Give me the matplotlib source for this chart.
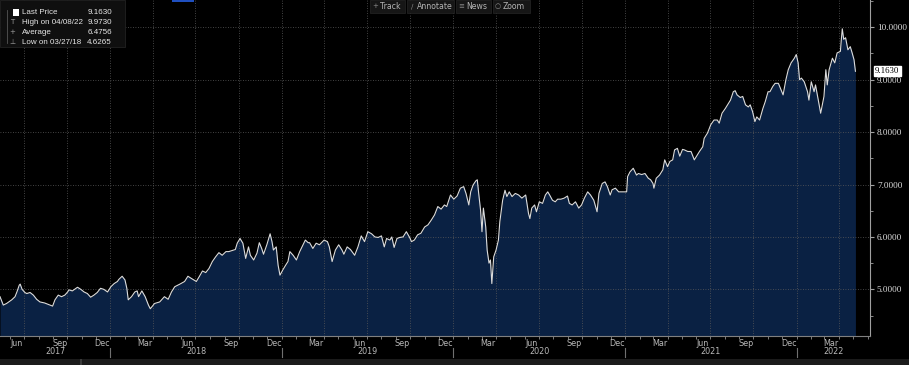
import pandas as pd
import numpy as np
import matplotlib
matplotlib.use('Agg')
import matplotlib.pyplot as plt
import matplotlib.dates as mdates
from matplotlib.patches import Rectangle
from matplotlib.ticker import MultipleLocator, FormatStrFormatter

# --- price history (date, last price) ---
obs_2017 = [
    ("2017-05-11", 4.86), ("2017-05-18", 4.70), ("2017-05-25", 4.73), ("2017-06-05", 4.80),
    ("2017-06-12", 4.86), ("2017-06-16", 4.95), ("2017-06-21", 5.08), ("2017-06-23", 5.10),
    ("2017-06-27", 5.00), ("2017-07-03", 4.94), ("2017-07-07", 4.92), ("2017-07-14", 4.94),
    ("2017-07-21", 4.89), ("2017-07-28", 4.81), ("2017-08-04", 4.76), ("2017-08-14", 4.74),
    ("2017-08-25", 4.70), ("2017-08-31", 4.68), ("2017-09-05", 4.80), ("2017-09-12", 4.89),
    ("2017-09-19", 4.86), ("2017-09-26", 4.89), ("2017-10-02", 4.95), ("2017-10-05", 4.99),
    ("2017-10-12", 4.97), ("2017-10-23", 5.04), ("2017-10-30", 5.00), ("2017-11-06", 4.95),
    ("2017-11-13", 4.92), ("2017-11-20", 4.85), ("2017-11-27", 4.89), ("2017-12-04", 4.94),
    ("2017-12-11", 5.02), ("2017-12-18", 5.00), ("2017-12-26", 4.95),
]
obs_2018 = [
    ("2018-01-02", 5.05), ("2018-01-09", 5.11), ("2018-01-16", 5.15), ("2018-01-19", 5.19),
    ("2018-01-26", 5.25), ("2018-02-01", 5.18), ("2018-02-05", 5.02), ("2018-02-08", 4.80),
    ("2018-02-15", 4.86), ("2018-02-22", 4.95), ("2018-02-27", 4.97), ("2018-03-02", 4.86),
    ("2018-03-09", 4.97), ("2018-03-16", 4.86), ("2018-03-23", 4.70), ("2018-03-27", 4.63),
    ("2018-04-05", 4.73), ("2018-04-16", 4.76), ("2018-04-26", 4.86), ("2018-05-04", 4.81),
    ("2018-05-11", 4.95), ("2018-05-18", 5.05), ("2018-05-29", 5.10), ("2018-06-08", 5.15),
    ("2018-06-15", 5.25), ("2018-06-22", 5.21), ("2018-07-03", 5.15), ("2018-07-09", 5.24),
    ("2018-07-16", 5.35), ("2018-07-23", 5.32), ("2018-07-30", 5.40), ("2018-08-06", 5.53),
    ("2018-08-13", 5.62), ("2018-08-20", 5.70), ("2018-08-27", 5.65), ("2018-09-04", 5.72),
    ("2018-09-10", 5.72), ("2018-09-17", 5.74), ("2018-09-24", 5.76), ("2018-09-28", 5.88),
    ("2018-10-04", 5.97), ("2018-10-10", 5.88), ("2018-10-16", 5.59), ("2018-10-22", 5.81),
    ("2018-10-26", 5.65), ("2018-11-02", 5.56), ("2018-11-09", 5.69), ("2018-11-14", 5.89),
    ("2018-11-19", 5.78), ("2018-11-23", 5.67), ("2018-11-30", 5.85), ("2018-12-07", 6.06),
    ("2018-12-11", 5.91), ("2018-12-14", 5.75), ("2018-12-20", 5.81), ("2018-12-24", 5.46),
    ("2018-12-28", 5.27),
]
obs_2019 = [
    ("2019-01-03", 5.37), ("2019-01-09", 5.46), ("2019-01-14", 5.53), ("2019-01-18", 5.72),
    ("2019-01-25", 5.65), ("2019-02-01", 5.56), ("2019-02-08", 5.72), ("2019-02-15", 5.85),
    ("2019-02-20", 5.94), ("2019-02-26", 5.89), ("2019-03-01", 5.89), ("2019-03-08", 5.78),
    ("2019-03-15", 5.88), ("2019-03-22", 5.85), ("2019-04-01", 5.94), ("2019-04-08", 5.91),
    ("2019-04-12", 5.81), ("2019-04-18", 5.53), ("2019-04-25", 5.75), ("2019-05-02", 5.85),
    ("2019-05-09", 5.75), ("2019-05-13", 5.67), ("2019-05-20", 5.81), ("2019-05-27", 5.76),
    ("2019-06-05", 5.65), ("2019-06-12", 5.81), ("2019-06-19", 6.02), ("2019-06-26", 5.91),
    ("2019-07-03", 6.10), ("2019-07-11", 6.06), ("2019-07-18", 6.00), ("2019-07-25", 5.99),
    ("2019-08-01", 6.02), ("2019-08-07", 5.81), ("2019-08-12", 5.97), ("2019-08-19", 5.94),
    ("2019-08-23", 6.00), ("2019-08-28", 5.80), ("2019-09-03", 5.97), ("2019-09-09", 5.99),
    ("2019-09-16", 6.00), ("2019-09-23", 6.10), ("2019-09-30", 5.99), ("2019-10-04", 5.91),
    ("2019-10-10", 5.94), ("2019-10-17", 6.04), ("2019-10-24", 6.07), ("2019-11-01", 6.19),
    ("2019-11-08", 6.23), ("2019-11-15", 6.32), ("2019-11-22", 6.42), ("2019-11-29", 6.58),
    ("2019-12-06", 6.53), ("2019-12-13", 6.61), ("2019-12-18", 6.58), ("2019-12-26", 6.80),
]
obs_2020 = [
    ("2020-01-02", 6.72), ("2020-01-09", 6.78), ("2020-01-16", 6.93), ("2020-01-23", 6.96),
    ("2020-01-28", 6.83), ("2020-02-03", 6.61), ("2020-02-07", 6.86), ("2020-02-12", 6.99),
    ("2020-02-18", 7.07), ("2020-02-21", 7.09), ("2020-02-24", 6.83), ("2020-02-28", 6.51),
    ("2020-03-02", 6.10), ("2020-03-05", 6.55), ("2020-03-10", 6.19), ("2020-03-13", 5.75),
    ("2020-03-17", 5.50), ("2020-03-20", 5.56), ("2020-03-23", 5.11), ("2020-03-27", 5.62),
    ("2020-04-01", 5.75), ("2020-04-06", 5.94), ("2020-04-09", 6.29), ("2020-04-15", 6.70),
    ("2020-04-20", 6.89), ("2020-04-24", 6.77), ("2020-04-29", 6.86), ("2020-05-05", 6.77),
    ("2020-05-12", 6.83), ("2020-05-19", 6.80), ("2020-05-26", 6.74), ("2020-06-03", 6.80),
    ("2020-06-09", 6.45), ("2020-06-12", 6.35), ("2020-06-16", 6.55), ("2020-06-22", 6.61),
    ("2020-06-26", 6.48), ("2020-07-02", 6.67), ("2020-07-09", 6.64), ("2020-07-15", 6.80),
    ("2020-07-20", 6.86), ("2020-07-24", 6.80), ("2020-07-30", 6.70), ("2020-08-05", 6.67),
    ("2020-08-10", 6.72), ("2020-08-17", 6.72), ("2020-08-24", 6.74), ("2020-08-31", 6.78),
    ("2020-09-04", 6.64), ("2020-09-10", 6.61), ("2020-09-17", 6.67), ("2020-09-24", 6.55),
    ("2020-09-30", 6.61), ("2020-10-06", 6.74), ("2020-10-13", 6.86), ("2020-10-19", 6.80),
    ("2020-10-26", 6.70), ("2020-11-02", 6.48), ("2020-11-06", 6.83), ("2020-11-13", 7.02),
    ("2020-11-19", 7.05), ("2020-11-24", 6.96), ("2020-11-30", 6.80), ("2020-12-04", 6.90),
    ("2020-12-11", 6.93), ("2020-12-18", 6.86), ("2020-12-24", 6.86),
]
obs_2021 = [
    ("2021-01-04", 6.86), ("2021-01-06", 7.15), ("2021-01-11", 7.24), ("2021-01-18", 7.31),
    ("2021-01-25", 7.18), ("2021-01-29", 7.21), ("2021-02-05", 7.19), ("2021-02-12", 7.21),
    ("2021-02-19", 7.12), ("2021-02-24", 7.09), ("2021-03-01", 7.02), ("2021-03-03", 6.93),
    ("2021-03-08", 7.12), ("2021-03-15", 7.18), ("2021-03-22", 7.28), ("2021-03-26", 7.47),
    ("2021-04-01", 7.34), ("2021-04-06", 7.44), ("2021-04-12", 7.47), ("2021-04-16", 7.66),
    ("2021-04-22", 7.69), ("2021-04-27", 7.54), ("2021-05-03", 7.67), ("2021-05-07", 7.66),
    ("2021-05-14", 7.63), ("2021-05-21", 7.63), ("2021-05-28", 7.47), ("2021-06-08", 7.63),
    ("2021-06-15", 7.72), ("2021-06-18", 7.88), ("2021-06-25", 7.98), ("2021-07-02", 8.14),
    ("2021-07-09", 8.23), ("2021-07-16", 8.23), ("2021-07-20", 8.17), ("2021-07-26", 8.36),
    ("2021-08-02", 8.45), ("2021-08-09", 8.55), ("2021-08-13", 8.61), ("2021-08-19", 8.77),
    ("2021-08-23", 8.79), ("2021-08-27", 8.71), ("2021-09-03", 8.66), ("2021-09-08", 8.68),
    ("2021-09-14", 8.52), ("2021-09-20", 8.48), ("2021-09-24", 8.52), ("2021-09-29", 8.39),
    ("2021-10-04", 8.20), ("2021-10-08", 8.29), ("2021-10-14", 8.23), ("2021-10-21", 8.45),
    ("2021-10-26", 8.58), ("2021-11-01", 8.77), ("2021-11-05", 8.77), ("2021-11-11", 8.87),
    ("2021-11-16", 8.93), ("2021-11-23", 8.93), ("2021-11-29", 8.80), ("2021-12-03", 8.71),
    ("2021-12-09", 9.00), ("2021-12-14", 9.19), ("2021-12-20", 9.32), ("2021-12-27", 9.41),
    ("2021-12-31", 9.48),
]
obs_2022 = [
    ("2022-01-04", 9.32), ("2022-01-07", 9.00), ("2022-01-11", 9.03), ("2022-01-17", 8.96),
    ("2022-01-24", 8.77), ("2022-01-27", 8.61), ("2022-02-01", 8.96), ("2022-02-07", 8.77),
    ("2022-02-10", 8.90), ("2022-02-15", 8.65), ("2022-02-21", 8.36), ("2022-02-28", 8.68),
    ("2022-03-04", 9.19), ("2022-03-07", 8.90), ("2022-03-11", 9.19), ("2022-03-18", 9.41),
    ("2022-03-23", 9.32), ("2022-03-28", 9.51), ("2022-04-04", 9.54), ("2022-04-06", 9.77),
    ("2022-04-08", 9.97), ("2022-04-11", 9.77), ("2022-04-15", 9.80), ("2022-04-20", 9.57),
    ("2022-04-25", 9.63), ("2022-04-29", 9.51), ("2022-05-03", 9.38), ("2022-05-06", 9.16),
]

# legend values
last_price = 9.1630
high_price, high_date = 9.9730, "04/08/22"
avg_price = 6.4756
low_price, low_date = 4.6265, "03/27/18"

y_ticks = [5, 6, 7, 8, 9, 10]
toolbar_items = ["Track", "Annotate", "News", "Zoom"]

# --- build series ---
obs = obs_2017 + obs_2018 + obs_2019 + obs_2020 + obs_2021 + obs_2022
df = pd.DataFrame(obs, columns=["date", "price"])
df["date"] = pd.to_datetime(df["date"])

W, H = 909, 365
x_min, x_max = pd.Timestamp("2017-05-11"), pd.Timestamp("2022-06-06")
y_min, y_max = 4.11, 10.52

fig = plt.figure(figsize=(W / 100, H / 100), dpi=100, facecolor="black")
ax = fig.add_axes([0, 29 / H, 870 / W, 336 / H])
ax.set_facecolor("black")

ax.fill_between(df["date"], df["price"], y_min, color="#0a2143", lw=0)
ax.plot(df["date"], df["price"], color="#dcdcdc", lw=0.8)

ax.set_xlim(x_min, x_max)
ax.set_ylim(y_min, y_max)

# grid: quarterly verticals, integer horizontals
ax.xaxis.set_major_locator(mdates.MonthLocator(bymonth=[1, 4, 7, 10]))
ax.xaxis.set_minor_locator(mdates.MonthLocator())
ax.xaxis.set_major_formatter(plt.NullFormatter())
ax.set_yticks(y_ticks)
ax.yaxis.set_minor_locator(MultipleLocator(0.5))
ax.yaxis.set_major_formatter(FormatStrFormatter("%.4f"))
ax.grid(True, which="major", color="#5a5a5a", lw=0.6, linestyle=(0, (1, 2)))

ax.yaxis.tick_right()
ax.tick_params(axis="y", which="major", colors="#a0a0a0", length=3, width=0.8, pad=2,
               labelsize=6.6, labelcolor="#dedede")
ax.tick_params(axis="y", which="minor", colors="#a0a0a0", length=2, width=0.6)
ax.tick_params(axis="x", which="both", colors="#909090", length=2, width=0.6)
for lab in ax.get_yticklabels():
    lab.set_fontfamily("Liberation Serif")

for side in ["top", "left"]:
    ax.spines[side].set_visible(False)
ax.spines["right"].set_color("#a0a0a0")
ax.spines["bottom"].set_color("#808080")
ax.spines["right"].set_linewidth(0.8)
ax.spines["bottom"].set_linewidth(0.8)

# month labels (mid-month of Mar/Jun/Sep/Dec) and year labels
for m in pd.date_range("2017-03-01", "2022-05-01", freq="MS"):
    if m.month in (3, 6, 9, 12):
        mid = m + pd.Timedelta(days=14)
        if x_min < mid < x_max:
            ax.annotate(m.strftime("%b"), xy=(mid, 0), xycoords=("data", "axes fraction"),
                        xytext=(0, -8), textcoords="offset pixels", ha="center", va="center",
                        fontsize=5.8, color="#b8b8b8", annotation_clip=False)
for yr in range(2017, 2023):
    start = max(pd.Timestamp(f"{yr}-01-01"), x_min)
    end = min(pd.Timestamp(f"{yr + 1}-01-01"), x_max)
    centre = start + (end - start) / 2
    ax.annotate(str(yr), xy=(centre, 0), xycoords=("data", "axes fraction"),
                xytext=(0, -16), textcoords="offset pixels", ha="center", va="center",
                fontsize=5.8, color="#b8b8b8", annotation_clip=False)
    if yr > 2017:
        jan = mdates.date2num(pd.Timestamp(f"{yr}-01-01"))
        ax.plot([jan, jan], [-12 / 336, -21 / 336], transform=ax.get_xaxis_transform(),
                color="#707070", lw=0.8, clip_on=False)

# last price tag on the right axis
ax.annotate(f"{last_price:.4f}", xy=(1, last_price), xycoords=("axes fraction", "data"),
            xytext=(5, 0), textcoords="offset pixels", ha="left", va="center",
            fontsize=6.4, family="Liberation Serif", color="black",
            bbox=dict(boxstyle="square,pad=0.15", fc="white", ec="white"),
            annotation_clip=False)

# bottom window strip
fig.patches.append(Rectangle((0, 0), 1, 6 / H, transform=fig.transFigure,
                             facecolor="#1b1b1b", edgecolor="none"))
fig.patches.append(Rectangle((80 / W, 0), 1.5 / W, 6 / H, transform=fig.transFigure,
                             facecolor="#3a3a3a", edgecolor="none"))

# legend panel, top left
fig.patches.append(Rectangle((0, 1 - 47 / H), 125 / W, 47 / H, transform=fig.transFigure,
                             facecolor="#0f0f0f", edgecolor="#222222", lw=0.6, zorder=5))
rows = [("Last Price", f"{last_price:.4f}"),
        (f"High on {high_date}", f"{high_price:.4f}"),
        ("Average", f"{avg_price:.4f}"),
        (f"Low on {low_date}", f"{low_price:.4f}")]
icons = ["", "T", "+", "\u22a5"]
for i, (name, val) in enumerate(rows):
    yy = 1 - (12.5 + 10 * i) / H
    fig.text(22 / W, yy, name, fontsize=5.8, family="Liberation Sans", color="#e6e6e6",
             va="center", ha="left", zorder=6)
    fig.text(112 / W, yy, val, fontsize=5.8, family="Liberation Sans", color="#e6e6e6",
             va="center", ha="right", zorder=6)
    if icons[i]:
        fig.text(12 / W, yy, icons[i], fontsize=5, color="#9a9a9a", va="center", ha="center", zorder=6)
fig.patches.append(Rectangle((13 / W, 1 - 16 / H), 6 / W, 7 / H, transform=fig.transFigure,
                             facecolor="white", edgecolor="none", zorder=6))
fig.add_artist(plt.Line2D([7 / W, 7 / W], [1 - 10 / H, 1 - 43 / H], color="#555555", lw=0.6, zorder=6))

# toolbar, top centre
tb_x = [370, 407, 456, 493]
tb_w = [35, 47, 35, 37]
tb_icon = ["+", "\u2215", "\u2261", "\u25cb"]
for x0, w, label, ic in zip(tb_x, tb_w, toolbar_items, tb_icon):
    fig.patches.append(Rectangle((x0 / W, 1 - 13 / H), w / W, 13 / H, transform=fig.transFigure,
                                 facecolor="#161616", edgecolor="#262626", lw=0.5, zorder=5))
    fig.text((x0 + 5) / W, 1 - 6.5 / H, ic, fontsize=5, color="#8a8a8a", va="center", ha="center", zorder=6)
    fig.text((x0 + 10) / W, 1 - 6.5 / H, label, fontsize=5.6, color="#b4b4b4", va="center", ha="left", zorder=6)

# small blue fragment at the top edge
fig.patches.append(Rectangle((172 / W, 1 - 2 / H), 22 / W, 2 / H, transform=fig.transFigure,
                             facecolor="#1f4fbf", edgecolor="none"))

fig.savefig("out.png", dpi=100, facecolor="black")
